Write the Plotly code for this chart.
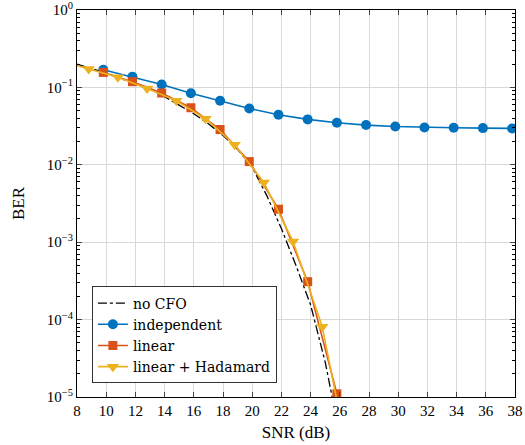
import plotly.graph_objects as go

# ---- data ----
snr_ind = [9.8, 11.8, 13.8, 15.8, 17.8, 19.8, 21.8, 23.8, 25.8, 27.8, 29.8, 31.8, 33.8, 35.8, 37.8]
ber_ind = [0.169, 0.137, 0.109, 0.0841, 0.0673, 0.0535, 0.0443, 0.0386, 0.0349, 0.0326,
           0.0313, 0.0304, 0.0301, 0.0298, 0.0295]

snr_lin = [9.8, 11.8, 13.8, 15.8, 17.8, 19.8, 21.8, 23.8, 25.8]
ber_lin = [0.156, 0.1185, 0.0847, 0.0546, 0.0286, 0.0110, 0.00267, 3.09e-4, 1.10e-5]

snr_had = [6.8, 8.8, 10.8, 12.8, 14.8, 16.8, 18.8, 20.8, 22.8, 24.8, 26.8]
ber_had = [0.222, 0.173, 0.135, 0.097, 0.0673, 0.0394, 0.0181, 0.0059, 1.02e-3, 8.1e-5, 1.0e-6]

snr_ref = [8, 9, 10, 11, 12, 13, 14, 15, 16, 17, 18, 19, 20, 21, 22, 23, 24, 25, 26]
ber_ref = [0.2, 0.174, 0.153, 0.130, 0.111, 0.0955, 0.0759, 0.0589, 0.0457, 0.0339,
           0.0240, 0.0158, 0.00933, 0.00400, 0.00150, 5.0e-4, 1.55e-4, 2.82e-5, 3.2e-6]

x_ticks = list(range(8, 39, 2))
y_tickvals = [1e-5, 1e-4, 1e-3, 1e-2, 1e-1, 1]
y_ticktext = ["10<sup>\u22125</sup>", "10<sup>\u22124</sup>", "10<sup>\u22123</sup>",
              "10<sup>\u22122</sup>", "10<sup>\u22121</sup>", "10<sup>0</sup>"]

blue = "#0072BD"
red = "#D95319"
yellow = "#EDB120"
font_family = "Liberation Serif"
legend_family = "DejaVu Serif"

fig = go.Figure()
fig.add_trace(go.Scatter(x=snr_ref, y=ber_ref, mode="lines", name="no CFO",
                         line=dict(color="black", width=1.3, dash="dashdot")))
fig.add_trace(go.Scatter(x=snr_ind, y=ber_ind, mode="lines+markers", name="independent",
                         line=dict(color=blue, width=1.6),
                         marker=dict(symbol="circle", size=10, color=blue)))
fig.add_trace(go.Scatter(x=snr_lin, y=ber_lin, mode="lines+markers", name="linear",
                         line=dict(color=red, width=1.6),
                         marker=dict(symbol="square", size=9, color=red)))
fig.add_trace(go.Scatter(x=snr_had, y=ber_had, mode="lines+markers", name="linear + Hadamard",
                         line=dict(color=yellow, width=1.6),
                         marker=dict(symbol="triangle-down", size=11, color=yellow)))

minor_vals = [m * 10 ** e for e in range(-5, 0) for m in range(2, 10)]

fig.update_layout(
    width=525, height=445,
    margin=dict(l=77, r=10, t=10, b=48, autoexpand=False),
    paper_bgcolor="white", plot_bgcolor="white",
    font=dict(family=font_family, size=14, color="black"),
    showlegend=True,
    legend=dict(x=0.034, y=0.035, xanchor="left", yanchor="bottom",
                bgcolor="white", bordercolor="#333333", borderwidth=1,
                font=dict(family=legend_family, size=14), tracegroupgap=0,
                itemwidth=30),
    xaxis=dict(range=[8, 38.0001], tickvals=x_ticks, ticks="inside", ticklen=5,
               showline=True, linecolor="black", linewidth=1.2, mirror="ticks",
               showgrid=True, gridcolor="#d9d9d9", gridwidth=1, zeroline=False,
               automargin=False, ticklabeloverflow="allow",
               title=dict(text="SNR (dB)", standoff=8),
               tickfont=dict(size=15)),
    yaxis=dict(type="log", range=[-5.0001, 0.0001], tickvals=y_tickvals, ticktext=y_ticktext,
               ticks="inside", ticklen=5,
               showline=True, linecolor="black", linewidth=1.2, mirror="ticks",
               showgrid=True, gridcolor="#d9d9d9", gridwidth=1, zeroline=False,
               automargin=False, ticklabeloverflow="allow",
               minor=dict(tickvals=minor_vals, ticks="inside", ticklen=3,
                          showgrid=False, tickcolor="black"),
               title=dict(text="BER", standoff=17),
               tickfont=dict(size=15)),
)

fig.write_html("out.html", config={"displayModeBar": False},
               post_script="document.body.style.margin='0';")
